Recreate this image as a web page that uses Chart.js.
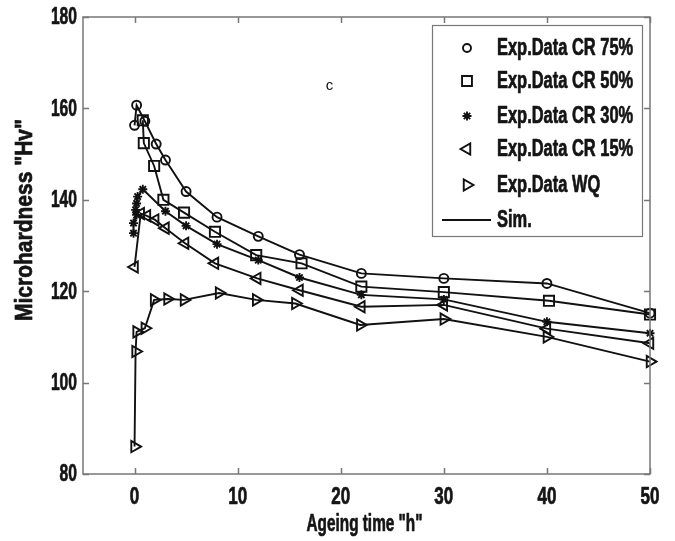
<!DOCTYPE html>
<html><head><meta charset="utf-8">
<script src="https://cdn.jsdelivr.net/npm/chart.js@4.4.1/dist/chart.umd.min.js"></script>
<style>html,body{margin:0;padding:0;background:#fff}#wrap{width:675px;height:541px;position:relative}</style>
</head><body><div id="wrap"><canvas id="c" width="675" height="541"></canvas></div>
<script>
// ---- data ----
const xTickValues = [0, 10, 20, 30, 40, 50];
const yTickValues = [80, 100, 120, 140, 160, 180];
const seriesNames = ['Exp.Data CR 75%', 'Exp.Data CR 50%', 'Exp.Data CR 30%', 'Exp.Data CR 15%', 'Exp.Data WQ'];
const simLabel = 'Sim.';
const xTitle = 'Ageing time "h"';
const yTitle = 'Microhardness "Hv"';
const panelLabel = 'c';
const panelLabelPos = [18.9, 164.9];

const cr75 = [[0,156.3],[0.2,160.7],[1,157.2],[2.1,152.2],[3,148.7],[5,141.8],[8,136.2],[12,132],[16,128],[22,123.9],[30,122.8],[40,121.7],[50,115.2]];
const cr50 = [[0.8,157.4],[0.9,152.4],[1.9,147.4],[2.8,140],[4.8,137.2],[7.8,133],[11.8,127.9],[16.2,126.1],[22,121],[30,119.8],[40.2,117.9],[50,114.9]];
const cr30 = [[-0.1,132.7],[-0.1,134.9],[0.2,136.7],[0.1,137.8],[0.2,139.2],[0.3,140.7],[0.8,142.3],[3,137.5],[5,134.3],[8,130.3],[12,126.8],[16,123],[22,119.2],[30,118.2],[40,113.3],[50,110.8]];
const cr15 = [[0,125.3],[0.6,137],[1.2,136.5],[2,135.6],[3,133.8],[4.9,130.5],[7.8,126.1],[11.9,122.8],[16,120.2],[22,116.6],[30,117],[40,111.8],[50,108.6]];
const wq   = [[0,86],[0.1,106.8],[0.2,111.1],[1,111.9],[1.9,118.1],[3.2,118.3],[4.8,118.1],[8.2,119.6],[11.8,118.1],[15.6,117.3],[21.9,112.6],[30,113.9],[40,110],[50,104.6]];

// ---- styles ----
const FONT = "bold 23px 'Liberation Sans', Arial, sans-serif";
const TEXT_COLOR = '#141414';
const markerStyles = [
  {pointStyle:'circle', radius:4.5, rotation:0},
  {pointStyle:'rect', radius:7.2, rotation:0},
  {pointStyle:'star', radius:4.5, rotation:0},
  {pointStyle:'triangle', radius:6.5, rotation:-90},
  {pointStyle:'triangle', radius:6.5, rotation:90}
];
const allSeries = [cr75, cr50, cr30, cr15, wq];

const datasets = allSeries.map((s, i) => ({
  label: seriesNames[i],
  data: s.map(([x, y]) => ({x, y})),
  showLine: true,
  borderColor: '#111',
  borderWidth: 1.9,
  backgroundColor: 'rgba(0,0,0,0)',
  pointBorderColor: '#111',
  pointBackgroundColor: 'rgba(0,0,0,0)',
  pointBorderWidth: 1.9,
  pointStyle: markerStyles[i].pointStyle,
  pointRadius: markerStyles[i].radius,
  pointRotation: markerStyles[i].rotation,
  tension: 0,
  clip: false
}));

function drawMarker(ctx, st, x, y) {
  ctx.beginPath();
  const r = st.radius;
  if (st.pointStyle === 'circle') {
    ctx.arc(x, y, r, 0, Math.PI * 2);
  } else if (st.pointStyle === 'rect') {
    const s = r * Math.SQRT1_2;
    ctx.rect(x - s, y - s, 2 * s, 2 * s);
  } else if (st.pointStyle === 'star') {
    for (let k = 0; k < 4; k++) {
      const a = k * Math.PI / 4;
      ctx.moveTo(x - Math.cos(a) * r, y - Math.sin(a) * r);
      ctx.lineTo(x + Math.cos(a) * r, y + Math.sin(a) * r);
    }
  } else if (st.pointStyle === 'triangle') {
    let rad = st.rotation * Math.PI / 180;
    ctx.moveTo(x + Math.sin(rad) * r, y - Math.cos(rad) * r);
    rad += 2 * Math.PI / 3;
    ctx.lineTo(x + Math.sin(rad) * r, y - Math.cos(rad) * r);
    rad += 2 * Math.PI / 3;
    ctx.lineTo(x + Math.sin(rad) * r, y - Math.cos(rad) * r);
    ctx.closePath();
  }
  ctx.stroke();
}

// condensed, heavy text: drawn horizontally squeezed to a target width
function condText(ctx, text, x, y, align, target, rotate) {
  ctx.save();
  ctx.font = FONT;
  ctx.fillStyle = TEXT_COLOR;
  ctx.strokeStyle = TEXT_COLOR;
  ctx.lineWidth = 0.7;
  ctx.lineJoin = 'round';
  ctx.textBaseline = 'middle';
  ctx.textAlign = align;
  const sx = target / ctx.measureText(text).width;
  ctx.translate(x, y);
  if (rotate) ctx.rotate(-Math.PI / 2);
  ctx.scale(sx, 1);
  ctx.fillText(text, 0, 0);
  ctx.strokeText(text, 0, 0);
  ctx.restore();
}
function widthAt(ctx, text, factor) {
  ctx.save(); ctx.font = FONT;
  const w = ctx.measureText(text).width * factor;
  ctx.restore();
  return w;
}

const framePlugin = {
  id: 'frame',
  afterDatasetsDraw(chart) {
    const {ctx, chartArea: a, scales: {x, y}} = chart;
    ctx.save();
    // frame
    ctx.strokeStyle = '#777';
    ctx.lineWidth = 1.5;
    ctx.strokeRect(a.left, a.top, a.right - a.left, a.bottom - a.top);
    // inward ticks on all sides
    const tl = 6;
    ctx.beginPath();
    xTickValues.forEach(v => {
      const px = Math.round(x.getPixelForValue(v)) + 0.5;
      ctx.moveTo(px, a.bottom); ctx.lineTo(px, a.bottom - tl);
      ctx.moveTo(px, a.top); ctx.lineTo(px, a.top + tl);
    });
    yTickValues.forEach(v => {
      const py = Math.round(y.getPixelForValue(v)) + 0.5;
      ctx.moveTo(a.left, py); ctx.lineTo(a.left + tl, py);
      ctx.moveTo(a.right, py); ctx.lineTo(a.right - tl, py);
    });
    ctx.stroke();

    // tick labels
    xTickValues.forEach(v => { const t = String(v); condText(ctx, t, x.getPixelForValue(v), a.bottom + 24, 'center', widthAt(ctx, t, 0.74)); });
    yTickValues.forEach(v => { const t = String(v); condText(ctx, t, a.left - 6, y.getPixelForValue(v) + 1, 'right', widthAt(ctx, t, 0.68)); });

    // axis titles
    condText(ctx, xTitle, (a.left + a.right) / 2 - 2, 525, 'center', 116);
    condText(ctx, yTitle, 26, 220, 'center', 202, true);

    // panel label
    ctx.fillStyle = '#111';
    ctx.font = "15px 'Liberation Sans', Arial, sans-serif";
    ctx.textAlign = 'center';
    ctx.textBaseline = 'middle';
    ctx.fillText(panelLabel, x.getPixelForValue(panelLabelPos[0]), y.getPixelForValue(panelLabelPos[1]));

    // legend
    const bx = 432.5, by = 25.5, bw = 210, bh = 211;
    ctx.fillStyle = '#fff';
    ctx.fillRect(bx, by, bw, bh);
    ctx.strokeStyle = '#777';
    ctx.lineWidth = 1.2;
    ctx.strokeRect(bx, by, bw, bh);
    const rowY = [48, 81, 116, 149, 185, 220];
    const mx = 467, tx = 497;
    ctx.strokeStyle = '#111';
    ctx.lineWidth = 1.9;
    seriesNames.forEach((n, i) => {
      const st = Object.assign({}, markerStyles[i]);
      if (st.pointStyle === 'circle') st.radius = 4;
      if (st.pointStyle === 'rect') st.radius = 7;
      drawMarker(ctx, st, mx, rowY[i]);
      condText(ctx, n, tx, rowY[i] + 1, 'left', widthAt(ctx, n, 0.715));
    });
    ctx.beginPath();
    ctx.moveTo(442, rowY[5]); ctx.lineTo(491, rowY[5]);
    ctx.stroke();
    condText(ctx, simLabel, tx, rowY[5] + 1, 'left', widthAt(ctx, simLabel, 0.715));
    ctx.restore();
  }
};

new Chart(document.getElementById('c'), {
  type: 'scatter',
  data: {datasets},
  plugins: [framePlugin],
  options: {
    responsive: false,
    animation: false,
    devicePixelRatio: 1,
    layout: {padding: {top: 17, right: 25, left: 0, bottom: 0}},
    plugins: {legend: {display: false}, tooltip: {enabled: false}},
    scales: {
      x: {
        type: 'linear', min: -5, max: 50,
        afterBuildTicks: s => { s.ticks = xTickValues.map(v => ({value: v})); },
        afterFit: s => { s.height = 67; },
        grid: {display: false, drawTicks: false},
        border: {display: false},
        ticks: {display: false}
      },
      y: {
        type: 'linear', min: 80, max: 180,
        afterBuildTicks: s => { s.ticks = yTickValues.map(v => ({value: v})); },
        afterFit: s => { s.width = 83; },
        grid: {display: false, drawTicks: false},
        border: {display: false},
        ticks: {display: false}
      }
    }
  }
});
</script>
</body></html>
